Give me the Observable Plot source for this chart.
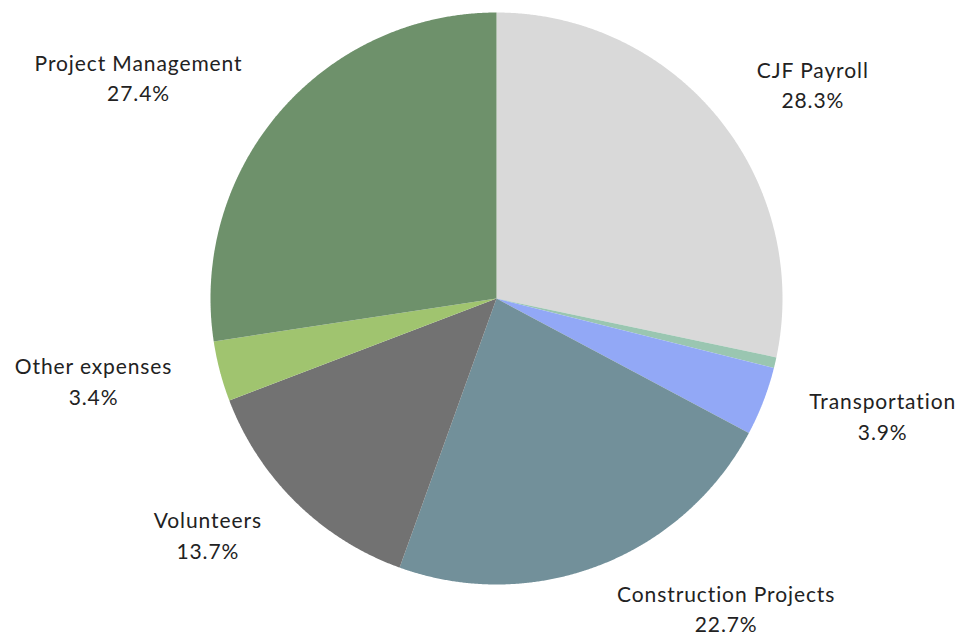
<!DOCTYPE html>
<html>
<head>
<meta charset="utf-8">
<script src="https://cdn.jsdelivr.net/npm/d3@7"></script>
<script src="https://cdn.jsdelivr.net/npm/@observablehq/plot@0.6"></script>
<style>
  html, body { margin: 0; padding: 0; background: #ffffff; }
  #chart { width: 962px; height: 637px; }
</style>
</head>
<body>
<div id="chart"></div>
<script>
// ---- data (clockwise from 12 o'clock) ----
const categories = ["CJF Payroll", "Unlabeled", "Transportation", "Construction Projects", "Volunteers", "Other expenses", "Project Management"];
const shares = [28.3, 0.6, 3.9, 22.7, 13.7, 3.4, 27.4];
const showLabel = [true, false, true, true, true, true, true];
const colors = ["#d9d9d9", "#9ac6b1", "#92a8f6", "#72909a", "#727272", "#a0c46f", "#6e916b"];

// ---- layout ----
const W = 962, H = 637;
const R = 286;            // pie radius in px
const cx = 496, cy = 298; // pie centre in px
const labelR = 335 / R;   // label anchor radius in pie units
const fontSize = 21;
const letterSpacing = 0.9;
const fontFamily = "Lato, 'Noto Sans', sans-serif";

const total = d3.sum(shares);
const ctx = document.createElement("canvas").getContext("2d");
ctx.font = `${fontSize}px Lato`;
const textWidth = (t) => ctx.measureText(t).width + letterSpacing * t.length;

// build slice polygons and label positions
const polys = [];
const labels = [];
let acc = 0;
categories.forEach((name, i) => {
  const a0 = acc / total * 2 * Math.PI;
  acc += shares[i];
  const a1 = acc / total * 2 * Math.PI;
  polys.push({name, x: 0, y: 0});
  const n = Math.max(2, Math.ceil((a1 - a0) / (Math.PI / 720)));
  for (let j = 0; j <= n; j++) {
    const a = a0 + (a1 - a0) * j / n;
    polys.push({name, x: Math.sin(a), y: Math.cos(a)});
  }
  if (showLabel[i]) {
    const am = (a0 + a1) / 2;
    const s = Math.sin(am), c = Math.cos(am);
    const pct = shares[i].toFixed(1) + "%";
    const w = Math.max(textWidth(name), textWidth(pct));
    labels.push({
      text: name + "\n" + pct,
      x: labelR * s + Math.sign(s) * (w / 2) / R,
      y: labelR * c
    });
  }
});

const chart = Plot.plot({
  width: W,
  height: H,
  margin: 0,
  style: {background: "#ffffff", fontFamily, fontSize: fontSize + "px", color: "#222"},
  x: {domain: [-cx / R, (W - cx) / R], axis: null},
  y: {domain: [-(H - cy) / R, cy / R], axis: null},
  color: {domain: categories, range: colors},
  marks: [
    Plot.line(polys, {x: "x", y: "y", z: "name", fill: "name", stroke: "none", curve: "linear"}),
    Plot.text(labels, {
      x: "x", y: "y", text: "text", dy: -4,
      textAnchor: "middle", lineAnchor: "middle", lineHeight: 1.45,
      fill: "#222", fontSize: fontSize, fontFamily
    })
  ]
});
chart.querySelectorAll("text").forEach(t => t.style.letterSpacing = letterSpacing + "px");
document.getElementById("chart").appendChild(chart);
</script>
</body>
</html>
